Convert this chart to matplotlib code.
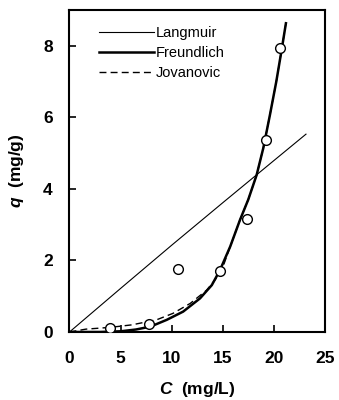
import matplotlib
matplotlib.use("Agg")
import matplotlib.pyplot as plt

plt.rcParams['font.family'] = ['Liberation Sans', 'DejaVu Sans']
plt.rcParams['mathtext.fontset'] = 'custom'
plt.rcParams['mathtext.bfit'] = 'Liberation Sans:italic:bold'
plt.rcParams['mathtext.rm'] = 'Liberation Sans:bold'

# measured data
c_obs = [4.0, 7.8, 10.6, 14.7, 17.3, 19.2, 20.6]
q_obs = [0.12, 0.22, 1.75, 1.7, 3.15, 5.37, 7.95]

# model curves
c_lang = [0, 5, 10, 15, 20, 23.1]
q_lang = [0, 1.22, 2.43, 3.62, 4.8, 5.53]

c_freu = [0, 3, 5, 6.5, 7.9, 9.5, 11.1, 12.75, 13.9, 14.7, 15.7, 16.65,
          17.46, 18.28, 18.93, 19.58, 20.2, 20.7, 21.14]
q_freu = [0, 0.0, 0.02, 0.07, 0.15, 0.34, 0.57, 0.94, 1.31, 1.73, 2.39, 3.13,
          3.7, 4.39, 5.14, 6.07, 7.0, 7.85, 8.63]

c_jova = [0, 1.6, 4, 6.1, 8.5, 10.1, 11.8, 13.4, 14.2, 14.9, 15.7, 16.65,
          17.46, 18.28, 18.93, 19.58, 20.2, 20.7, 21.14]
q_jova = [0, 0.08, 0.13, 0.2, 0.34, 0.52, 0.8, 1.17, 1.45, 1.75, 2.39, 3.13,
          3.7, 4.39, 5.14, 6.07, 7.0, 7.85, 8.63]

fig = plt.figure(figsize=(3.39, 4.0), dpi=100)
ax = fig.add_axes([0.205, 0.17, 0.755, 0.805])

ax.plot(c_lang, q_lang, color='black', lw=0.8, label='Langmuir')
ax.plot(c_freu, q_freu, color='black', lw=1.8, label='Freundlich')
ax.plot(c_jova, q_jova, color='black', lw=1.0, ls=(0, (5, 3)), label='Jovanovic')
ax.plot(c_obs, q_obs, 'o', ms=7, mfc='white', mec='black', mew=1.0, zorder=5)

ax.set_xlim(0, 25)
ax.set_ylim(0, 9)
ax.set_xticks([0, 5, 10, 15, 20, 25])
ax.set_yticks([0, 2, 4, 6, 8])
ax.tick_params(direction='in', length=5, width=1.2, labelsize=12.5)
ax.tick_params(axis='x', pad=14)
ax.tick_params(axis='y', pad=12)
for lab in ax.get_xticklabels() + ax.get_yticklabels():
    lab.set_fontweight('bold')
for s in ax.spines.values():
    s.set_linewidth(1.5)

ax.set_xlabel(r'$\mathbfit{C}$  (mg/L)', fontsize=12.5, fontweight='bold', labelpad=10)
ax.set_ylabel(r'$\mathbfit{q}$  (mg/g)', fontsize=12.5, fontweight='bold', labelpad=12)

ax.legend(loc='upper left', frameon=False, fontsize=10.5, handlelength=3.8,
          handletextpad=0.1, labelspacing=0.4, borderaxespad=0.4,
          bbox_to_anchor=(0.07, 0.985))

fig.savefig('out.png', dpi=100)
